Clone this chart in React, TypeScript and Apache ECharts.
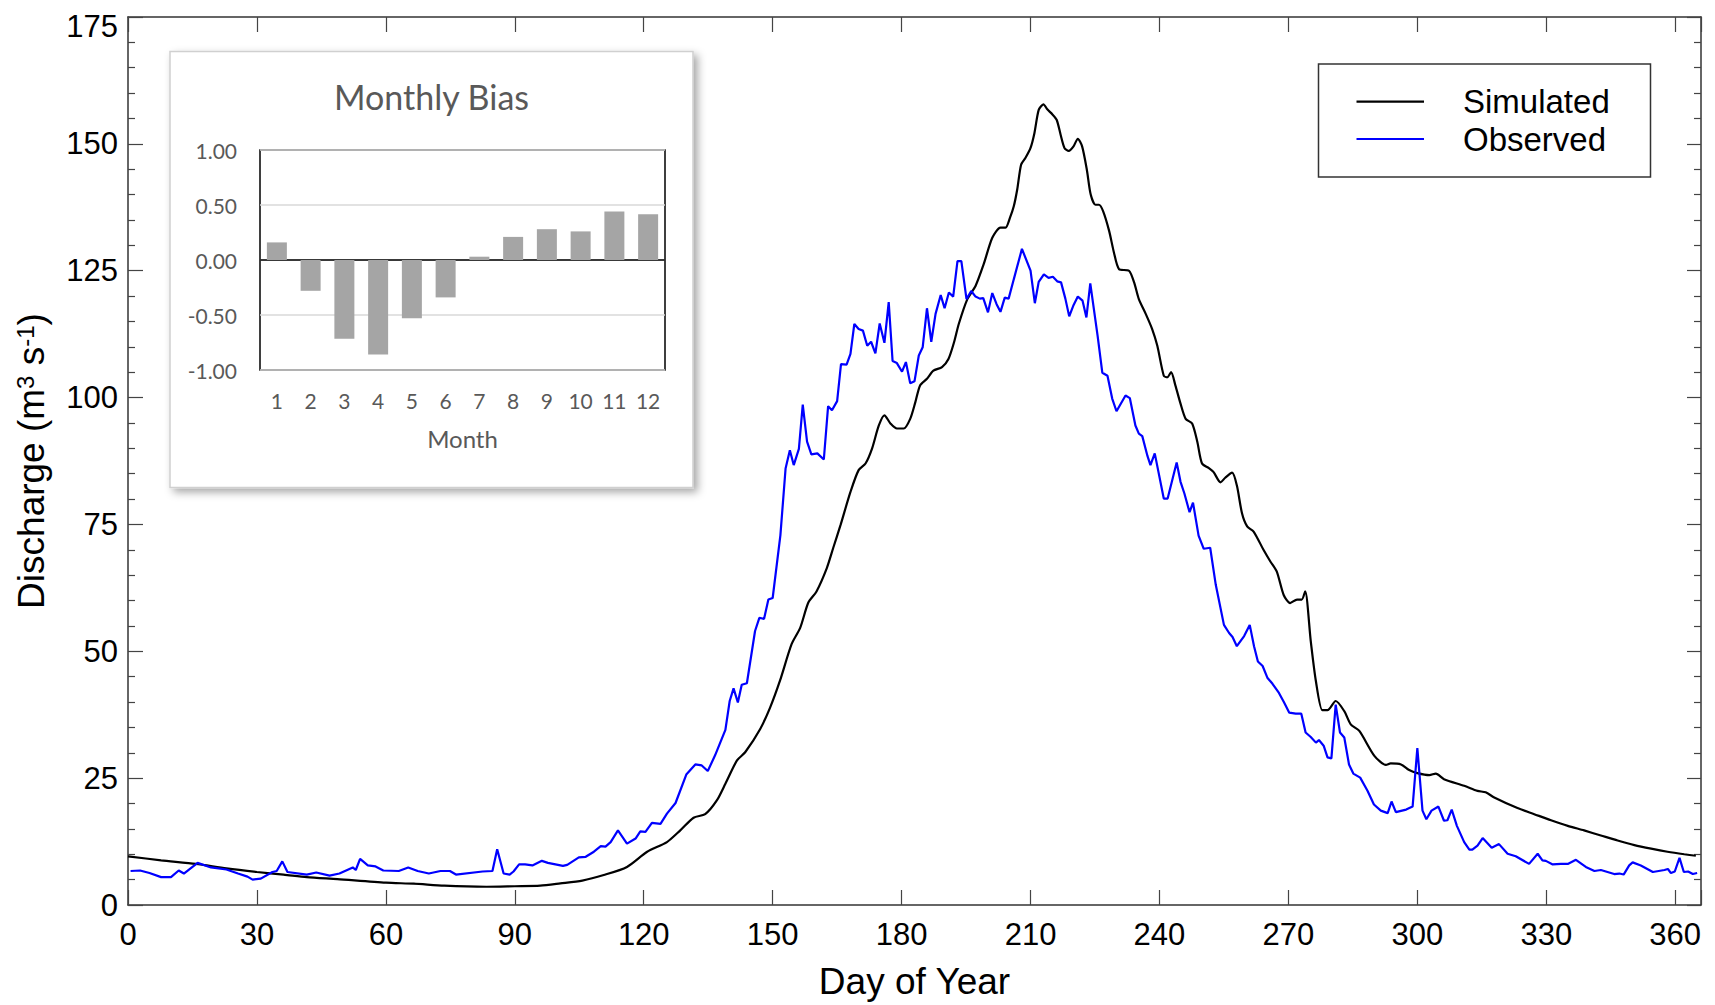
import { useEffect, useRef } from 'react';
import * as echarts from 'echarts';

const FONT = '"Liberation Sans", Arial, sans-serif';
const INSET_FONT = 'Lato, "Open Sans", sans-serif';

// Simulated discharge (day of year, m3/s)
const simulated: [number, number][] = [
  [0, 9.6], [7.7, 8.8], [15.8, 8.1], [22.9, 7.2], [30, 6.5], [36.2, 6.0], [41.6, 5.5], [48.7, 5.1],
  [60, 4.4], [66.5, 4.2], [73.6, 3.8], [83.4, 3.6], [90, 3.7], [95.9, 3.8], [100.6, 4.25], [105.7, 4.8],
  [110.7, 5.9], [116.1, 7.5], [120.8, 10.5], [125.4, 12.4], [128.5, 14.7], [131.6, 17.2], [134.3, 17.9],
  [137, 20.6], [139, 23.9], [141.7, 28.5], [143.6, 30.1], [147.1, 34.7], [149.4, 38.9], [151.7, 44.2],
  [154.4, 51.4], [156.4, 54.6], [158.3, 59.6], [160.2, 61.8], [162.6, 66.4], [164.1, 70.4],
  [165.8, 74.9], [168.1, 81.4], [170.0, 85.7], [171.6, 87.0], [173.1, 89.9], [174.7, 94.5], [176.0, 96.5],
  [177.4, 94.9], [178.9, 93.9], [180.5, 93.9], [182.0, 95.8], [183.2, 99.1], [184.3, 102.4], [185.9, 103.7],
  [187.4, 105.3], [189.4, 106.0], [190.9, 107.6], [192.2, 110.9], [193.3, 114.5], [195.3, 119.4],
  [197.2, 122.0], [199.1, 126.3], [201.1, 131.5], [203.0, 133.5], [204.2, 133.5], [205.2, 135.4],
  [206.1, 137.7], [206.9, 141.0], [207.8, 145.9], [208.8, 147.2], [210.0, 149.2], [210.9, 152.1],
  [211.9, 156.7], [213.0, 157.8], [213.9, 156.8], [215.1, 155.8], [216.1, 154.7], [217.0, 151.8],
  [217.9, 149.2], [218.9, 148.6], [220.0, 149.5], [221.0, 151.0], [222.0, 149.5], [223.1, 144.9],
  [224.0, 140.0], [225.1, 138.0], [225.9, 138.0], [226.9, 136.7], [228.3, 132.8], [229.4, 128.6],
  [230.6, 125.3], [232.9, 125.0], [234.1, 122.7], [235.2, 119.4], [236.8, 116.5], [238.3, 113.5],
  [239.5, 110.2], [241.0, 104.3], [241.8, 104.0], [242.7, 105.0], [243.7, 102.4], [244.9, 98.8],
  [246.1, 95.8], [247.6, 94.9], [248.8, 91.3], [249.9, 87.0], [251.5, 86.1], [252.6, 85.3], [254.2, 83.3],
  [255.3, 84.2], [256.9, 85.2], [258.0, 82.7], [259.2, 77.2], [260.4, 74.6], [261.9, 73.6], [264.2, 70.0],
  [265.8, 67.7], [267.3, 65.7], [268.9, 61.1], [270.4, 59.5], [272.0, 60.2], [273.1, 60.2], [273.9, 61.8],
  [275.2, 52.0], [276.4, 44.1], [277.9, 38.4], [279.1, 38.4], [281.0, 40.2], [283.0, 38.2], [284.5, 35.6],
  [286.5, 34.3], [290.0, 29.4], [292.7, 27.6], [293.8, 27.9], [296.2, 27.7], [298.1, 26.6], [300.0, 26.0],
  [302.8, 25.6], [304.3, 25.9], [306.2, 24.8], [310.9, 23.5], [314.0, 22.5], [315.9, 22.2], [317.9, 21.2],
  [323.3, 19.1], [327.2, 17.9], [331.1, 16.7], [335.0, 15.6], [338.8, 14.7], [342.7, 13.7], [346.6, 12.7],
  [350.5, 11.8], [354.4, 11.1], [358.2, 10.5], [362.1, 10.0], [364.8, 9.7],
];

// Observed discharge (day of year, m3/s)
const observed: [number, number][] = [
  [0.6, 6.7], [2.8, 6.8], [5, 6.3], [7.7, 5.5], [10, 5.5], [11.8, 6.8], [13, 6.2], [16.2, 8.3], [19.3, 7.4],
  [22.9, 7.0], [25.6, 6.2], [27.8, 5.6], [29, 5.0], [30.9, 5.2], [33.6, 6.5], [34.6, 6.7], [35.9, 8.6],
  [37.1, 6.5], [41.6, 6.0], [43.8, 6.4], [46.9, 5.8], [49.2, 6.2], [52.3, 7.4], [53, 6.9], [54, 9.1],
  [55.8, 7.8], [57.6, 7.6], [59.4, 6.8], [63, 6.7], [65.2, 7.4], [67.4, 6.7], [70, 6.2], [72.7, 6.7],
  [74.9, 6.7], [76.3, 6.0], [82.5, 6.6], [84.8, 6.7], [85.9, 11.0], [87.4, 6.2], [88.8, 6.0], [89.7, 6.6],
  [91, 8.0], [92.4, 8.0], [94.1, 7.8], [96.3, 8.7], [97.7, 8.3], [101.2, 7.7], [102.2, 7.9], [104.9, 9.4],
  [106.5, 9.5], [108.4, 10.5], [110, 11.6], [111.1, 11.5], [112.3, 12.4], [114, 14.7], [116.1, 12.1],
  [118.1, 13.1], [119.2, 14.5], [120.4, 14.4], [121.9, 16.2], [123.9, 16.0], [125.4, 18.0], [127.4, 20.1],
  [129.9, 25.7], [132, 27.7], [133.5, 27.5], [134.9, 26.4], [136.6, 29.5], [139, 34.5], [140, 40.2],
  [140.9, 42.7], [141.9, 39.9], [142.8, 43.4], [144, 43.7], [145.9, 54.0], [146.9, 56.6], [148, 56.4],
  [149, 60.2], [150, 60.5], [151.8, 72.9], [153.0, 86.0], [154.0, 89.6], [154.9, 86.7], [156.1, 89.9],
  [157.0, 98.6], [158.0, 91.3], [159.0, 88.8], [160.4, 89.0], [161.9, 87.8], [162.9, 98.3], [163.8, 97.5],
  [165.0, 99.3], [165.9, 106.6], [167.2, 106.5], [168.1, 108.6], [169.0, 114.5], [170.0, 113.5],
  [171.0, 113.2], [172.0, 110.2], [172.9, 111.0], [173.9, 108.7], [174.9, 114.6], [176.0, 110.8],
  [177.0, 118.8], [177.9, 107.2], [178.9, 106.8], [180.1, 105.1], [181.0, 107.0], [182.0, 102.8],
  [183.0, 103.2], [184.0, 108.3], [184.9, 109.9], [185.9, 117.6], [186.9, 111.0], [187.9, 116.5],
  [189.1, 120.2], [190.0, 117.6], [191.0, 120.7], [192.0, 119.9], [193.0, 126.9], [193.9, 126.9],
  [195.1, 119.4], [196.2, 121.0], [197.2, 119.9], [198.2, 119.5], [199.0, 119.6], [200.1, 116.8],
  [201.1, 120.6], [202.1, 118.4], [203.0, 116.9], [204.0, 119.7], [204.9, 119.5], [206.1, 123.3],
  [208.0, 129.3], [210.0, 125.0], [211.0, 118.6], [211.9, 122.8], [213.1, 124.3], [214.2, 123.6],
  [215.2, 123.8], [216.2, 122.9], [217.1, 122.7], [218.1, 119.5], [219.0, 116.0], [220.0, 118.2],
  [221.0, 119.9], [222.1, 119.1], [223.0, 115.8], [223.9, 122.5], [225.6, 112.2], [226.7, 104.9],
  [227.9, 104.3], [229.0, 99.8], [230.0, 97.3], [232.1, 100.4], [233.1, 99.9], [234.4, 94.5],
  [235.2, 92.9], [236.0, 92.4], [237.2, 88.5], [237.9, 86.7], [238.9, 89.0], [241.0, 80.1], [241.9, 80.1],
  [244.0, 87.2], [244.9, 83.4], [245.8, 81.1], [247.0, 77.4], [247.8, 79.3], [249.1, 72.8], [250.3, 70.2],
  [251.8, 70.4], [253.1, 63.1], [255.0, 55.2], [256.2, 53.6], [257.0, 52.8], [258.0, 51.0], [259.7, 53.0],
  [261.0, 55.2], [262.0, 51.0], [262.9, 48.0], [264.0, 47.1], [265.1, 44.8], [266.3, 43.6], [267.8, 41.8],
  [269.0, 39.9], [270.2, 37.9], [271.7, 37.7], [273.0, 37.7], [274.0, 34.0], [275.2, 33.1], [276.4, 32.0],
  [277.1, 32.5], [278.2, 31.4], [279.1, 29.1], [280.0, 28.9], [281.0, 39.5], [282.0, 34.0], [283.0, 33.0],
  [284.1, 27.7], [285.1, 25.9], [286.7, 25.1], [288.4, 22.5], [289.9, 19.8], [291.5, 18.6], [293.1, 18.1],
  [294.0, 20.4], [295.0, 18.3], [297.4, 18.8], [298.9, 19.4], [300.0, 30.9], [301.2, 18.6], [302.1, 16.9],
  [303.3, 18.6], [304.9, 19.4], [306.2, 16.6], [307.0, 16.7], [308.0, 18.8], [309.2, 15.6], [310.9, 12.4],
  [312.1, 10.9], [312.8, 10.9], [314.0, 11.7], [315.2, 13.2], [317.3, 11.3], [319.0, 12.0], [321.0, 10.1],
  [322.9, 9.6], [326.0, 8.1], [328.0, 10.1], [329.1, 8.8], [329.9, 8.7], [331.5, 8.0], [333.4, 8.1],
  [335.0, 8.1], [336.9, 8.9], [339.2, 7.5], [341.2, 6.7], [342.7, 6.9], [345.8, 6.1], [347.0, 6.2],
  [348.0, 6.0], [349.3, 7.8], [350.1, 8.4], [352.0, 7.8], [354.8, 6.5], [357.5, 6.9], [358.3, 7.1],
  [359.0, 6.3], [359.9, 6.6], [361.0, 9.3], [362.0, 6.5], [363.0, 6.6], [364.1, 6.1], [365.1, 6.3],
];

// Inset: monthly bias
const months = ['1', '2', '3', '4', '5', '6', '7', '8', '9', '10', '11', '12'];
const monthlyBias = [0.16, -0.28, -0.715, -0.86, -0.53, -0.34, 0.03, 0.21, 0.28, 0.26, 0.44, 0.415];

const legendNames = ['Simulated', 'Observed'];
const legendColors = ['#000000', '#0000ff'];

export default function App() {
  const ref = useRef<HTMLDivElement>(null);

  useEffect(() => {
    if (!ref.current) return;
    const chart = echarts.init(ref.current, undefined, { renderer: 'svg' });

    const axisLineStyle = { color: '#333', width: 1.5 };
    const tickStyle = { color: '#444', width: 1.2 };

    const option: any = {
      animation: false,
      backgroundColor: '#ffffff',
      grid: [
        { left: 128, right: 14, top: 17, bottom: 97, containLabel: false },
        {
          left: 260, top: 150, width: 405, height: 220, show: true,
          borderColor: '#000', borderWidth: 1.5, backgroundColor: 'transparent', z: 5,
        },
      ],
      xAxis: [
        {
          type: 'value', gridIndex: 0, min: 0, max: 366, interval: 30, position: 'bottom',
          axisLine: { show: true, onZero: false, lineStyle: axisLineStyle },
          axisTick: { show: true, inside: true, length: 15, lineStyle: tickStyle },
          axisLabel: {
            show: true, fontSize: 31, fontFamily: FONT, color: '#000', margin: 14,
            formatter: (v: number) => (v % 30 === 0 ? String(v) : ''),
          },
          splitLine: { show: false },
          name: 'Day of Year', nameLocation: 'middle', nameGap: 58,
          nameTextStyle: { fontSize: 37, fontFamily: FONT, color: '#000' },
        },
        {
          type: 'value', gridIndex: 0, min: 0, max: 366, interval: 30, position: 'top',
          axisLine: { show: true, onZero: false, lineStyle: axisLineStyle },
          axisTick: { show: true, inside: true, length: 15, lineStyle: tickStyle },
          axisLabel: { show: false },
          splitLine: { show: false },
        },
        {
          type: 'category', gridIndex: 1, data: months, z: 5,
          axisLine: { show: false }, axisTick: { show: false },
          axisLabel: { fontSize: 21, fontFamily: INSET_FONT, color: '#595959', margin: 20 },
          name: 'Month', nameLocation: 'middle', nameGap: 56,
          nameTextStyle: { fontSize: 24, fontFamily: INSET_FONT, color: '#595959' },
        },
      ],
      yAxis: [
        {
          type: 'value', gridIndex: 0, min: 0, max: 175, interval: 25, position: 'left',
          axisLine: { show: true, onZero: false, lineStyle: axisLineStyle },
          axisTick: { show: true, inside: true, length: 15, lineStyle: tickStyle },
          minorTick: { show: true, splitNumber: 5, length: 7, lineStyle: tickStyle },
          axisLabel: {
            show: true, fontSize: 31, fontFamily: FONT, color: '#000', margin: 10,
            formatter: (v: number) => (v === 175 ? '{t|175}' : String(v)),
            rich: { t: { fontSize: 31, fontFamily: FONT, color: '#000', padding: [18, 0, 0, 0] } },
          },
          splitLine: { show: false },
          name: '{a|Discharge (m}{s|3}{a| s}{s|-1}{a|)}',
          nameLocation: 'middle', nameGap: 78,
          nameTextStyle: {
            fontSize: 37, fontFamily: FONT, color: '#000',
            rich: {
              a: { fontSize: 37, fontFamily: FONT, color: '#000' },
              s: { fontSize: 24, fontFamily: FONT, color: '#000', verticalAlign: 'top' },
            },
          },
        },
        {
          type: 'value', gridIndex: 0, min: 0, max: 175, interval: 25, position: 'right',
          axisLine: { show: true, onZero: false, lineStyle: axisLineStyle },
          axisTick: { show: true, inside: true, length: 14, lineStyle: tickStyle },
          minorTick: { show: true, splitNumber: 5, length: 7, lineStyle: tickStyle },
          axisLabel: { show: false },
          splitLine: { show: false },
        },
        {
          type: 'value', gridIndex: 1, min: -1, max: 1, interval: 0.5, z: 5,
          axisLine: { show: false }, axisTick: { show: false },
          axisLabel: {
            fontSize: 21, fontFamily: INSET_FONT, color: '#595959', margin: 23,
            formatter: (v: number) => v.toFixed(2),
          },
          splitLine: { show: true, lineStyle: { color: '#d9d9d9', width: 1.5 } },
        },
      ],
      series: [
        {
          name: legendNames[0], type: 'line', xAxisIndex: 0, yAxisIndex: 0, data: simulated,
          showSymbol: false, symbol: 'none', z: 2, smooth: 0.25,
          lineStyle: { color: legendColors[0], width: 2.2 },
        },
        {
          name: legendNames[1], type: 'line', xAxisIndex: 0, yAxisIndex: 0, data: observed,
          showSymbol: false, symbol: 'none', z: 3,
          lineStyle: { color: legendColors[1], width: 2.2 },
        },
        {
          name: 'Monthly Bias', type: 'bar', xAxisIndex: 2, yAxisIndex: 2, data: monthlyBias,
          barWidth: 20, z: 5, itemStyle: { color: '#a5a5a5' },
          markLine: {
            silent: true, symbol: ['none', 'none'], label: { show: false },
            lineStyle: { color: '#000', width: 1.5, type: 'solid' },
            data: [{ yAxis: 0 }],
          },
        },
      ],
      graphic: {
        elements: [
          {
            type: 'rect', z: 1,
            shape: { x: 170, y: 51.5, width: 523, height: 436 },
            style: {
              fill: '#ffffff', stroke: '#d0d0d0', lineWidth: 1.5,
              shadowBlur: 8, shadowOffsetX: 4, shadowOffsetY: 4, shadowColor: 'rgba(0,0,0,0.35)',
            },
          },
          {
            type: 'text', z: 6, x: 431.5, y: 96,
            style: {
              text: 'Monthly Bias', fontSize: 34, fontFamily: INSET_FONT, fill: '#595959',
              align: 'center', verticalAlign: 'middle',
            },
          },
          {
            type: 'rect', z: 6,
            shape: { x: 1318.5, y: 64, width: 332, height: 113 },
            style: { fill: '#ffffff', stroke: '#333', lineWidth: 1.5 },
          },
          ...legendNames.flatMap((n, i) => [
            {
              type: 'line', z: 7,
              shape: { x1: 1356.5, y1: 101.7 + i * 37.3, x2: 1424, y2: 101.7 + i * 37.3 },
              style: { stroke: legendColors[i], lineWidth: 2.2 },
            },
            {
              type: 'text', z: 7, x: 1463, y: 101.7 + i * 37.3,
              style: {
                text: n, fontSize: 33, fontFamily: FONT, fill: '#000',
                align: 'left', verticalAlign: 'middle',
              },
            },
          ]),
        ],
      },
    };

    chart.setOption(option);
    return () => chart.dispose();
  }, []);

  return (
    <div
      ref={ref}
      style={{ position: 'absolute', left: 0, top: 0, width: 1715, height: 1005, background: '#fff' }}
    />
  );
}
